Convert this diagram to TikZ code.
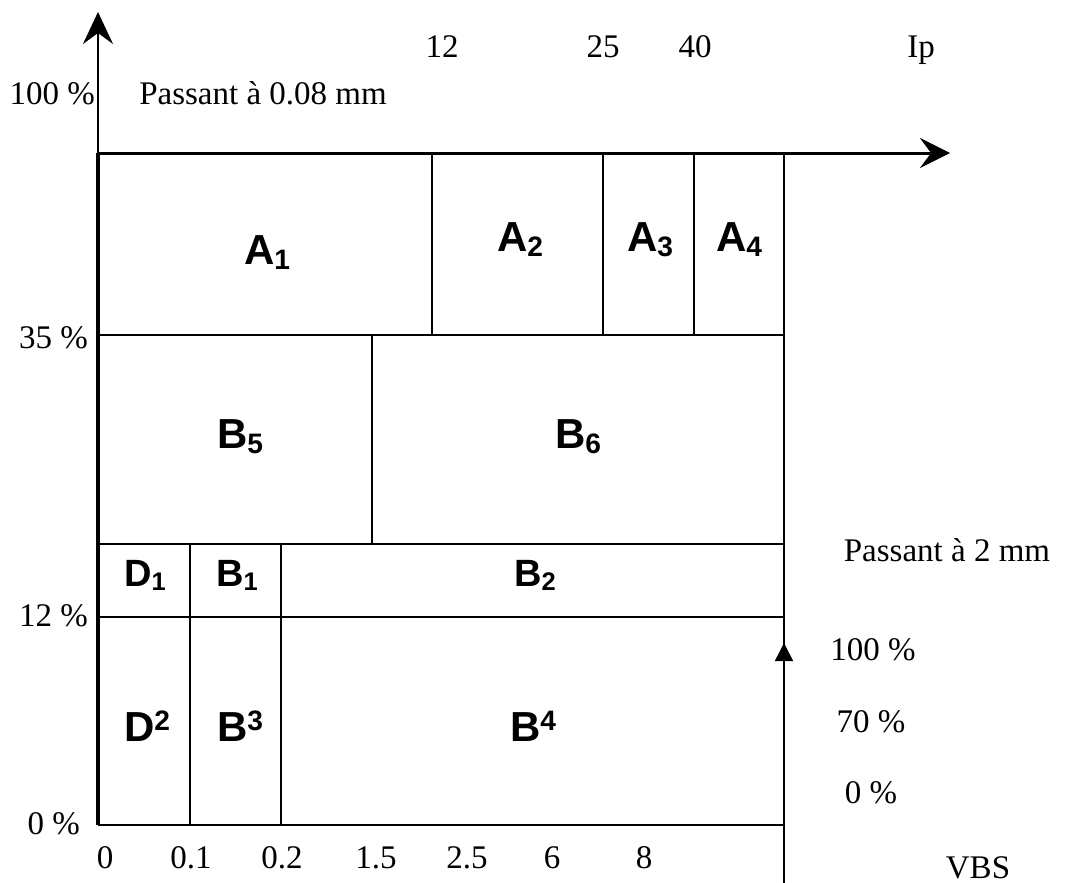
\documentclass[tikz,border=0pt]{standalone}
\usepackage{fontspec}
\usepackage{graphicx}
\setmainfont{Liberation Serif}
\newfontfamily\zonefont{Liberation Sans}
\usetikzlibrary{arrows.meta}

\newcommand\zsub[1]{\raisebox{-0.12em}{\scalebox{0.67}{#1}}}
\newcommand\zsup[1]{\raisebox{0.24em}{\scalebox{0.67}{#1}}}

\tikzset{
  lab/.style={font=\fontsize{33}{35}\selectfont, inner sep=0pt, anchor=base},
  zone/.style={font=\zonefont\bfseries\fontsize{42}{44}\selectfont, inner sep=0pt, anchor=base},
  zonesm/.style={zone, font=\zonefont\bfseries\fontsize{38}{40}\selectfont},
  rule/.style={line width=1.6pt},
  axis/.style={line width=3pt}
}

\begin{document}
\begin{tikzpicture}[x=1pt,y=-1pt]

  \useasboundingbox (0,0) rectangle (1073,883);

  % axes and frame
  \coordinate (o) at (98,825);
  \coordinate (c) at (98,153);
  \coordinate (ytip) at (98,12);
  \coordinate (xtip) at (950,153);
  \coordinate (r) at (784,153);
  \coordinate (rb) at (784,825);
  \coordinate (vbot) at (784,883);
  \coordinate (vtip) at (784,643);

  \draw[line width=1.6pt, -{Stealth[length=32pt,width=30pt,inset=11pt]}] (c) -- (ytip);
  \draw[axis, -{Stealth[length=30pt,width=30pt,inset=11pt]}] (c) -- (xtip);
  \draw[line width=4pt] (c) -- (o);
  \draw[rule] (o) -- (rb) -- (r);
  \draw[rule, -{Triangle[length=18pt,width=18pt]}] (vbot) -- (vtip);

  \foreach \y in {335,544,617}{
    \draw[rule] (98,\y) -- (784,\y);
  }
  \foreach \x in {432,603,694}{
    \draw[rule] (\x,153) -- (\x,335);
  }
  \draw[rule] (372,335) -- (372,544);
  \foreach \x in {190,281}{
    \draw[rule] (\x,544) -- (\x,825);
  }

  % left scale
  \node[lab, anchor=base east] (p100) at (95,104) {100 \%};
  \node[lab, anchor=base east] (p35) at (88,348) {35 \%};
  \node[lab, anchor=base east] (p12) at (88,626) {12 \%};
  \node[lab, anchor=base east] (p0) at (80,834) {0 \%};
  \node[lab] (pass008) at (263,104) {Passant à 0.08 mm};

  % top scale
  \node[lab] (ip12) at (442,57) {12};
  \node[lab] (ip25) at (603,57) {25};
  \node[lab] (ip40) at (695,57) {40};
  \node[lab] (ip) at (921,57) {Ip};

  % bottom scale
  \foreach \x/\t [count=\i] in {105/0, 191/0.1, 282/0.2, 376/1.5, 467/2.5, 552/6, 644/8}{
    \node[lab] (d\i) at (\x,868) {\t};
  }
  \node[lab] (vbs) at (978,878) {VBS};

  % right scale
  \node[lab] (pass2) at (947,561) {Passant à 2 mm};
  \node[lab] (v100) at (873,660) {100 \%};
  \node[lab] (v70) at (871,732) {70 \%};
  \node[lab] (v0) at (871,803) {0 \%};

  % zones
  \node[zone] (a1) at (267,264) {A\zsub{1}};
  \node[zone] (a2) at (520,251) {A\zsub{2}};
  \node[zone] (a3) at (650,251) {A\zsub{3}};
  \node[zone] (a4) at (739,251) {A\zsub{4}};
  \node[zone] (b5) at (240,448) {B\zsub{5}};
  \node[zone] (b6) at (578,448) {B\zsub{6}};
  \node[zonesm] (d1) at (145,586) {D\zsub{1}};
  \node[zonesm] (b1) at (237,586) {B\zsub{1}};
  \node[zonesm] (b2) at (535,586) {B\zsub{2}};
  \node[zone] (d2) at (147,741) {D\zsup{2}};
  \node[zone] (b3) at (240,741) {B\zsup{3}};
  \node[zone] (b4) at (533,741) {B\zsup{4}};

\end{tikzpicture}
\end{document}
